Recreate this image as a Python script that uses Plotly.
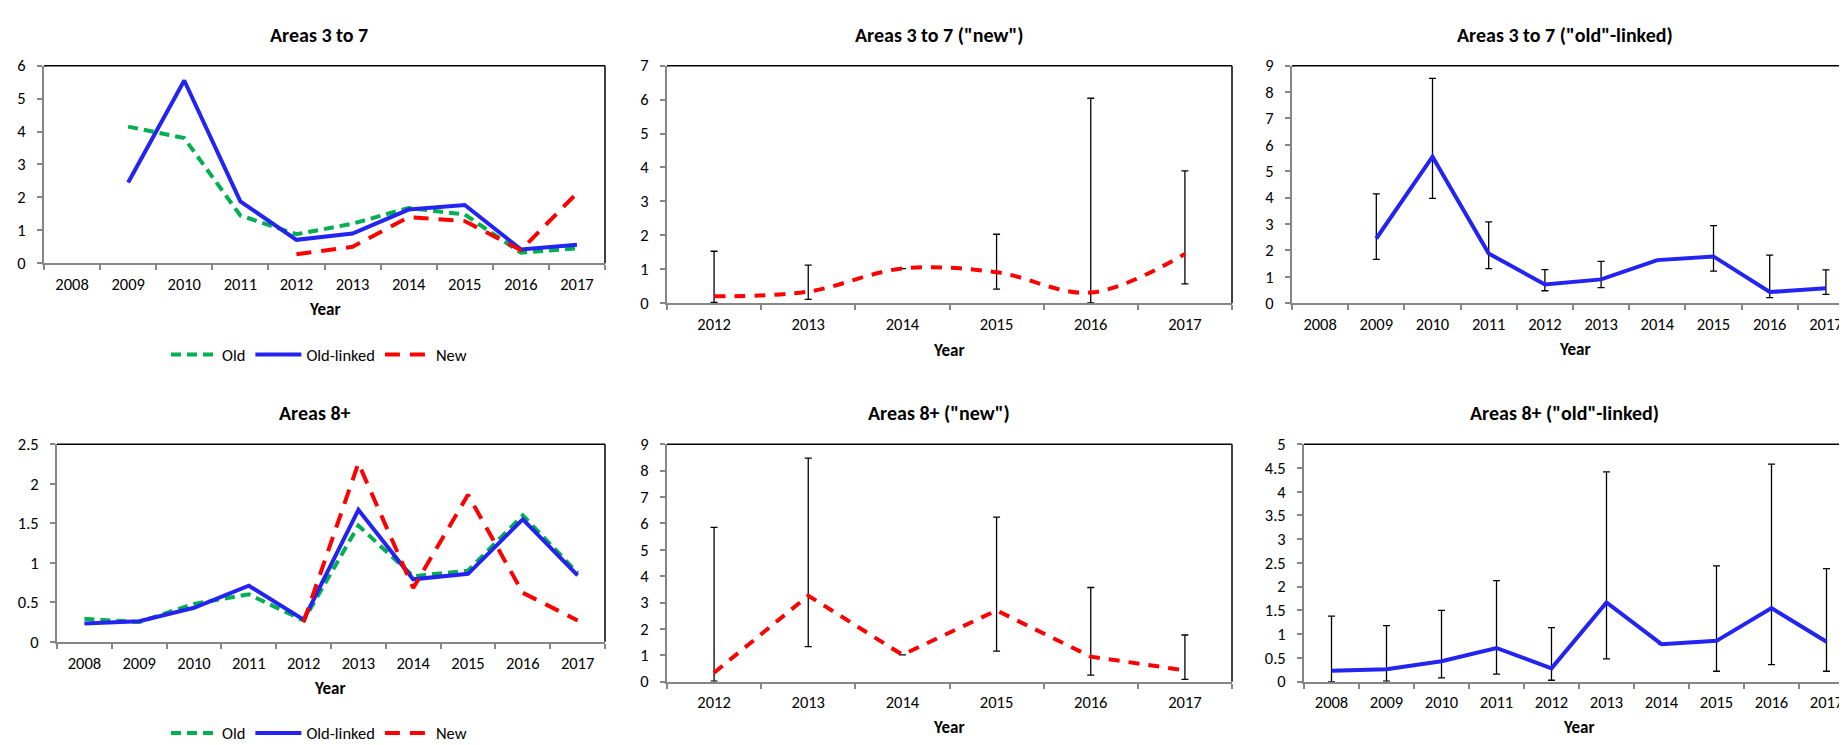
import plotly.graph_objects as go

W, H = 1847, 745

years_all = ["2008", "2009", "2010", "2011", "2012", "2013", "2014", "2015", "2016", "2017"]
years_new = ["2012", "2013", "2014", "2015", "2016", "2017"]

# Areas 3 to 7
a37_old = [None, 4.15, 3.8, 1.45, 0.88, 1.2, 1.68, 1.48, 0.32, 0.45]
a37_linked = [None, 2.45, 5.55, 1.88, 0.71, 0.9, 1.63, 1.77, 0.42, 0.56]
a37_new_cmp = [None, None, None, None, 0.27, 0.5, 1.4, 1.28, 0.4, 2.13]

# Areas 3 to 7 ("new") with intervals
a37_new = [0.2, 0.34, 1.02, 0.91, 0.31, 1.45]
a37_new_hi = [1.53, 1.12, None, 2.03, 6.04, 3.9]
a37_new_lo = [0.02, 0.11, None, 0.41, 0.01, 0.57]

# Areas 3 to 7 ("old"-linked) with intervals
a37_lk_hi = [None, 4.14, 8.52, 3.08, 1.27, 1.58, None, 2.94, 1.82, 1.26]
a37_lk_lo = [None, 1.66, 3.97, 1.31, 0.47, 0.59, None, 1.21, 0.21, 0.33]

# Areas 8+
a8_old = [0.29, 0.25, 0.48, 0.6, 0.27, 1.47, 0.83, 0.9, 1.6, 0.87]
a8_linked = [0.23, 0.26, 0.43, 0.71, 0.28, 1.67, 0.79, 0.86, 1.55, 0.84]
a8_new_cmp = [None, None, None, None, 0.25, 2.26, 0.68, 1.86, 0.62, 0.27]

# Areas 8+ ("new") with intervals
a8_new = [0.34, 3.26, 1.02, 2.7, 0.95, 0.43]
a8_new_hi = [5.85, 8.47, None, 6.24, 3.57, 1.77]
a8_new_lo = [0.02, 1.33, None, 1.16, 0.25, 0.09]

# Areas 8+ ("old"-linked) with intervals
a8_lk_hi = [1.38, 1.18, 1.5, 2.13, 1.14, 4.42, None, 2.44, 4.58, 2.38]
a8_lk_lo = [0.0, 0.01, 0.08, 0.16, 0.03, 0.48, None, 0.22, 0.36, 0.22]

titles = ["Areas 3 to 7", 'Areas 3 to 7 ("new")', 'Areas 3 to 7 ("old"-linked)',
          "Areas 8+", 'Areas 8+ ("new")', 'Areas 8+ ("old"-linked)']

GREEN = "#00B050"
BLUE = "#2323F2"
RED = "#FF0000"
AXIS = "#868686"
FONT = "Carlito, Calibri, Lato, sans-serif"
LW = 4
TICK = 16.5

# plot areas in pixels: (left, right, top, bottom)
boxes = [(36, 597, 49, 252), (659, 1224, 49, 293), (1284, 1846, 49, 293),
         (49, 597, 438, 641), (659, 1224, 438, 682), (1296, 1846, 438, 682)]
yranges = [(6, 1), (7, 1), (9, 1), (2.5, 0.5), (9, 1), (5, 0.5)]
title_pos = [(311, 17), (931, 17), (1557, 17), (307, 406), (931, 406), (1556, 406)]
year_pos = [(316, 300), (940, 342), (1566, 341), (321, 689), (940, 729), (1570, 729)]

fig = go.Figure()


def err(vals, hi, lo):
    plus = [None if (h is None or v is None) else round(h - v, 3) for v, h in zip(vals, hi)]
    minus = [None if (l is None or v is None) else round(v - l, 3) for v, l in zip(vals, lo)]
    return dict(type="data", symmetric=False, array=plus, arrayminus=minus,
                color="#000000", thickness=1.3, width=3.5)


GDASH = "10px,6px"
RDASH = "15px,10px"

# Panel 1
fig.add_trace(go.Scatter(x=years_all, y=a37_old, mode="lines", name="Old",
                         line=dict(color=GREEN, width=LW, dash=GDASH),
                         xaxis="x", yaxis="y", legend="legend"))
fig.add_trace(go.Scatter(x=years_all, y=a37_linked, mode="lines", name="Old-linked",
                         line=dict(color=BLUE, width=LW), xaxis="x", yaxis="y", legend="legend"))
fig.add_trace(go.Scatter(x=years_all, y=a37_new_cmp, mode="lines", name="New",
                         line=dict(color=RED, width=LW, dash=RDASH),
                         xaxis="x", yaxis="y", legend="legend"))
# Panel 2
fig.add_trace(go.Scatter(x=years_new, y=a37_new, mode="lines", showlegend=False,
                         line=dict(color=RED, width=LW, dash="11px,9px", shape="spline"),
                         error_y=err(a37_new, a37_new_hi, a37_new_lo),
                         xaxis="x2", yaxis="y2"))
# Panel 3
fig.add_trace(go.Scatter(x=years_all, y=a37_linked, mode="lines", showlegend=False,
                         line=dict(color=BLUE, width=LW),
                         error_y=err(a37_linked, a37_lk_hi, a37_lk_lo),
                         xaxis="x3", yaxis="y3"))
# Panel 4
fig.add_trace(go.Scatter(x=years_all, y=a8_old, mode="lines", name="Old",
                         line=dict(color=GREEN, width=LW, dash=GDASH),
                         xaxis="x4", yaxis="y4", legend="legend2"))
fig.add_trace(go.Scatter(x=years_all, y=a8_linked, mode="lines", name="Old-linked",
                         line=dict(color=BLUE, width=LW), xaxis="x4", yaxis="y4", legend="legend2"))
fig.add_trace(go.Scatter(x=years_all, y=a8_new_cmp, mode="lines", name="New",
                         line=dict(color=RED, width=LW, dash=RDASH),
                         xaxis="x4", yaxis="y4", legend="legend2"))
# Panel 5
fig.add_trace(go.Scatter(x=years_new, y=a8_new, mode="lines", showlegend=False,
                         line=dict(color=RED, width=LW, dash="11px,9px"),
                         error_y=err(a8_new, a8_new_hi, a8_new_lo),
                         xaxis="x5", yaxis="y5"))
# Panel 6
fig.add_trace(go.Scatter(x=years_all, y=a8_linked, mode="lines", showlegend=False,
                         line=dict(color=BLUE, width=LW),
                         error_y=err(a8_linked, a8_lk_hi, a8_lk_lo),
                         xaxis="x6", yaxis="y6"))

layout = dict(width=W, height=H, margin=dict(l=0, r=0, t=0, b=0),
              paper_bgcolor="white", plot_bgcolor="white",
              font=dict(family=FONT, size=TICK, color="#000000"))

cats = [years_all, years_new, years_all, years_all, years_new, years_all]
shapes = []
for i, (l, r, t, b) in enumerate(boxes):
    n = "" if i == 0 else str(i + 1)
    layout["xaxis" + n] = dict(domain=[l / W, r / W], anchor="y" + n, type="category",
                               categoryorder="array", categoryarray=cats[i],
                               range=[-0.5, len(cats[i]) - 0.5],
                               tickson="boundaries", ticks="outside", ticklen=5,
                               tickwidth=1.5, tickcolor=AXIS, showline=True,
                               linecolor=AXIS, linewidth=2, showgrid=False,
                               zeroline=False, ticklabelstandoff=5,
                               tickfont=dict(size=TICK), fixedrange=True)
    ymax, dt = yranges[i]
    layout["yaxis" + n] = dict(domain=[1 - b / H, 1 - t / H], anchor="x" + n,
                               range=[0, ymax], dtick=dt, tick0=0, ticks="outside",
                               ticklen=5, tickwidth=1.5, tickcolor=AXIS, showline=True,
                               linecolor=AXIS, linewidth=2, showgrid=False,
                               zeroline=False, ticklabelstandoff=8,
                               tickfont=dict(size=TICK), fixedrange=True)
    xr = "x" + n + " domain"
    yr = "y" + n + " domain"
    # black plot-area border on top and right
    shapes.append(dict(type="line", xref=xr, yref=yr, x0=0, x1=1, y0=1, y1=1,
                       line=dict(color="#000000", width=1.5), layer="above"))
    shapes.append(dict(type="line", xref=xr, yref=yr, x0=1, x1=1, y0=0, y1=1,
                       line=dict(color="#000000", width=1.5), layer="above"))
layout["shapes"] = shapes

ann = []
for (x, y), txt in zip(title_pos, titles):
    ann.append(dict(x=x / W, y=1 - y / H, xref="paper", yref="paper", text="<b>" + txt + "</b>",
                    showarrow=False, xanchor="center", yanchor="middle",
                    font=dict(size=20, family=FONT)))
for (x, y) in year_pos:
    ann.append(dict(x=x / W, y=1 - y / H, xref="paper", yref="paper", text="<b>Year</b>",
                    showarrow=False, xanchor="center", yanchor="middle",
                    font=dict(size=17, family=FONT)))
layout["annotations"] = ann

leg = dict(orientation="h", xanchor="center", yanchor="middle", bgcolor="rgba(0,0,0,0)",
           font=dict(size=TICK, family=FONT), itemwidth=46, traceorder="normal")
layout["legend"] = dict(leg, x=311 / W, y=1 - 346 / H)
layout["legend2"] = dict(leg, x=311 / W, y=1 - 735 / H)

fig.update_layout(**layout)
fig.write_html("out.html")
